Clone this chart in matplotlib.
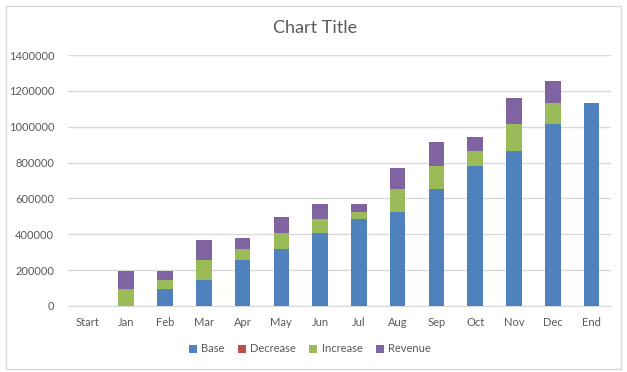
import matplotlib.pyplot as plt
import numpy as np
from matplotlib.patches import Rectangle

plt.rcParams['font.family'] = ['Lato', 'DejaVu Sans']

months = ["Start", "Jan", "Feb", "Mar", "Apr", "May", "Jun", "Jul",
          "Aug", "Sep", "Oct", "Nov", "Dec", "End"]
base = [0, 0, 95000, 145000, 255000, 316000, 405000, 483000,
        526000, 651000, 780000, 864000, 1013000, 1132000]
decrease = [0] * 14
increase = [0, 95000, 50000, 110000, 61000, 89000, 78000, 43000,
            125000, 129000, 84000, 149000, 119000, 0]
revenue = [0, 102000, 52000, 112000, 62000, 89000, 84000, 45000,
           121000, 134000, 76000, 146000, 122000, 0]

colors = {"Base": "#4f81bd", "Decrease": "#c0504d",
          "Increase": "#9bbb59", "Revenue": "#8064a2"}
text_col = "#595959"

fig = plt.figure(figsize=(6.27, 3.72), dpi=100)
fig.patches.append(Rectangle((6 / 627, 1 - 369 / 372), 615 / 627, 363 / 372,
                             transform=fig.transFigure, fill=False,
                             edgecolor="#d9d9d9", linewidth=1))
ax = fig.add_axes([68 / 627, 1 - 306 / 372, 543 / 627, 251 / 372])

x = np.arange(len(months))
w = 0.4
bottom = np.zeros(len(months))
for name, vals in [("Base", base), ("Decrease", decrease),
                   ("Increase", increase), ("Revenue", revenue)]:
    ax.bar(x, vals, w, bottom=bottom, color=colors[name], label=name, zorder=3)
    bottom += np.array(vals)

ax.set_xlim(-0.5, len(months) - 0.5)
ax.set_ylim(0, 1400000)
ax.set_yticks(range(0, 1400001, 200000))
ax.set_yticklabels([str(v) for v in range(0, 1400001, 200000)])
ax.set_xticks(x)
ax.set_xticklabels(months)
ax.grid(axis="y", color="#d9d9d9", linewidth=1, zorder=0)
for s in ["top", "right", "left"]:
    ax.spines[s].set_visible(False)
ax.spines["bottom"].set_color("#d9d9d9")
ax.tick_params(length=0, labelsize=8, colors=text_col, pad=8)
ax.tick_params(axis="y", pad=10)

fig.text(315 / 627, 1 - 28 / 372, "Chart Title", ha="center", va="center",
         fontsize=13, color=text_col)

handles, labels = ax.get_legend_handles_labels()
fig.legend(handles, labels, loc="center", bbox_to_anchor=(310 / 627, 1 - 349 / 372),
           ncol=4, frameon=False, fontsize=8, labelcolor=text_col,
           handlelength=0.7, handleheight=0.7, handletextpad=0.4, columnspacing=1.2)

fig.savefig("out.png", dpi=100)
